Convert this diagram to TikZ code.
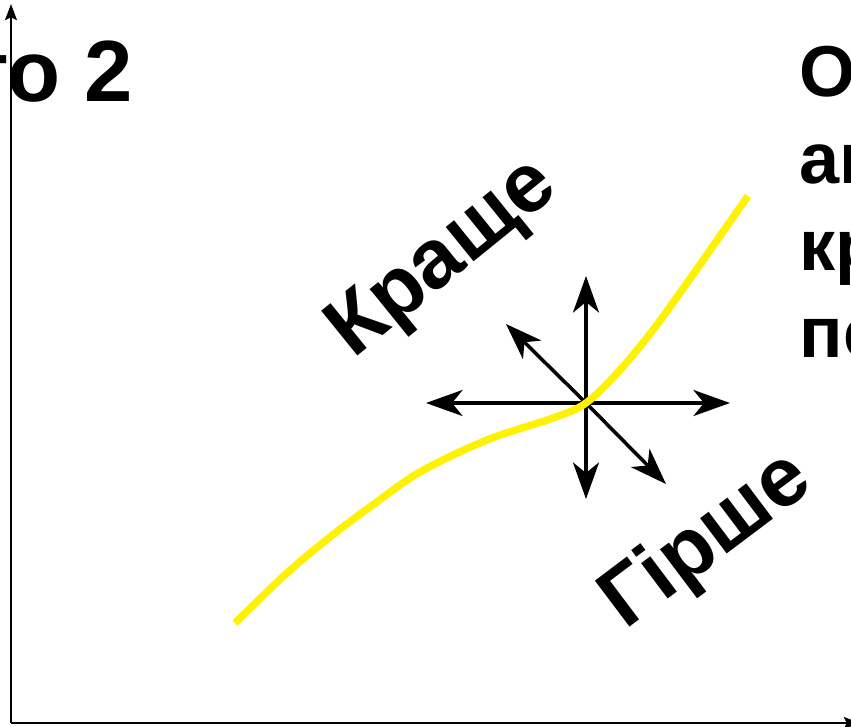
\documentclass[tikz,border=0pt]{standalone}
\usepackage{fontspec}
\setmainfont{Liberation Sans}
\usetikzlibrary{arrows.meta}
\tikzset{
  vec/.style={line width=1pt,-{Stealth[length=10.4pt,width=7.4pt,inset=3pt]}},
  axis/.style={line width=0.6pt,-{Stealth[length=4.6pt,width=3.4pt,inset=0.8pt]}},
  bigtxt/.style={font=\fontsize{24.7}{29}\selectfont\bfseries,inner sep=0pt},
  midtxt/.style={font=\fontsize{23.8}{29}\selectfont\bfseries,inner sep=0pt},
  sidetxt/.style={font=\fontsize{20.5}{24.7}\selectfont\bfseries,inner sep=0pt},
}
\begin{document}
\begin{tikzpicture}[x=0.01cm,y=-0.01cm]
  \useasboundingbox (0,0) rectangle (851,727);
  \clip (0,0) rectangle (851,727);
  \coordinate (o) at (11,723); \coordinate (ytop) at (11,4);
  \coordinate (xend) at (860,723);
  \draw[axis] (o)--(ytop);
  \draw[axis] (o)--(xend);
  % directions
  \coordinate (c) at (586,403);
  \coordinate (n) at (586,276); \coordinate (s) at (586,499);
  \coordinate (w) at (426,403); \coordinate (e) at (730,403);
  \coordinate (nw) at (506,324); \coordinate (se) at (666,484);
  \foreach \p in {n,s,w,e,nw,se} \draw[vec] (c)--(\p);
  % front
  \draw[yellow,line width=2.1pt] plot[smooth,tension=0.55] coordinates
    {(235,623) (287,573) (330,537) (370,507) (420,472) (487,440) (553,418)
     (586,403) (620,370) (653,330) (687,283) (748,196)};
  \node[bigtxt,anchor=base east] (title) at (134,101) {то 2};
  \node[midtxt,rotate=39,anchor=base west] (better) at (353,360) {Краще};
  \node[midtxt,rotate=37,anchor=base west] (worse) at (625,631) {Гірше};
  \foreach \t [count=\i] in {О,ан,кр,пе}
    \node[sidetxt,anchor=base west] (side\i) at (799,{9+87*\i}) {\t};
\end{tikzpicture}
\end{document}
